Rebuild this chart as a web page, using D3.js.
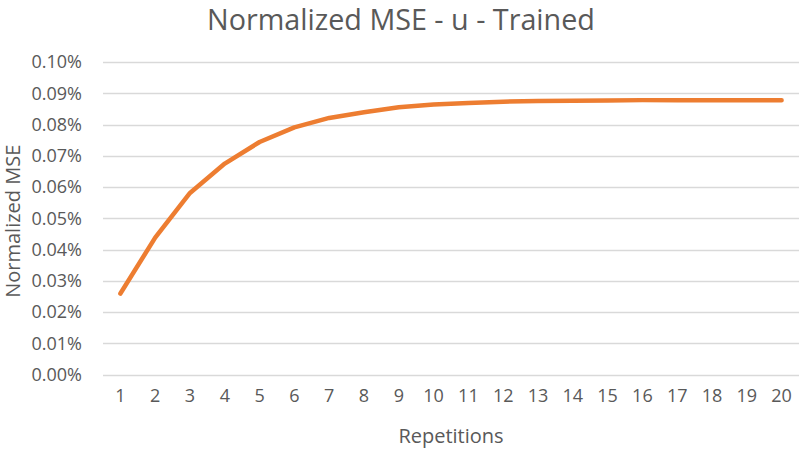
<!DOCTYPE html>
<html>
<head>
<meta charset="utf-8">
<script src="https://cdn.jsdelivr.net/npm/d3@7"></script>
<style>
  body { margin: 0; background: #fff; }
  svg { display: block; }
  text { font-family: "Open Sans", "Noto Sans", sans-serif; fill: #595959; }
</style>
</head>
<body>
<svg id="chart" width="800" height="449"></svg>
<script>
const titleText = "Normalized MSE - u - Trained";
const xTitle = "Repetitions";
const yTitle = "Normalized MSE";
const categories = [1,2,3,4,5,6,7,8,9,10,11,12,13,14,15,16,17,18,19,20];
const mseValues = [0.0259, 0.0438, 0.0581, 0.0675, 0.0744, 0.0791, 0.0821, 0.0839, 0.0855, 0.0864, 0.0869, 0.0873, 0.0875, 0.0876, 0.0877, 0.0878, 0.0878, 0.0878, 0.0878, 0.0878];
const yTicks = [0, 0.01, 0.02, 0.03, 0.04, 0.05, 0.06, 0.07, 0.08, 0.09, 0.10];

const svg = d3.select("#chart");
const plot = { left: 103, right: 799, top: 62, bottom: 374.5 };

const x = d3.scaleBand().domain(categories).range([plot.left, plot.right]);
const y = d3.scaleLinear().domain([0, 0.10]).range([plot.bottom, plot.top]);

// gridlines
svg.append("g").selectAll("line").data(yTicks).join("line")
  .attr("x1", plot.left).attr("x2", plot.right)
  .attr("y1", d => Math.round(y(d)) + 0.5).attr("y2", d => Math.round(y(d)) + 0.5)
  .attr("stroke", "#d9d9d9").attr("stroke-width", 1.3);

// y axis labels
const yAxis = d3.axisLeft(y).tickValues(yTicks).tickSize(0).tickPadding(0)
  .tickFormat(d => d.toFixed(2) + "%");
const yg = svg.append("g").attr("transform", `translate(${plot.left - 21},0)`).call(yAxis);
yg.select(".domain").remove();
yg.selectAll("text").attr("font-size", 18).attr("fill", "#595959")
  .style("font-family", '"Open Sans", sans-serif');

// x axis labels
const xAxis = d3.axisBottom(x).tickSize(0).tickPadding(0);
const xg = svg.append("g").attr("transform", `translate(0,${plot.bottom + 15})`).call(xAxis);
xg.select(".domain").remove();
xg.selectAll("text").attr("font-size", 18).attr("fill", "#595959")
  .style("font-family", '"Open Sans", sans-serif');

// line
const line = d3.line().x((d, i) => x(categories[i]) + x.bandwidth() / 2).y(d => y(d));
svg.append("path").datum(mseValues)
  .attr("d", line).attr("fill", "none")
  .attr("stroke", "#ed7d31").attr("stroke-width", 4.5)
  .attr("stroke-linecap", "round").attr("stroke-linejoin", "round");

// title
const t = svg.append("text").attr("x", 401).attr("y", 30)
  .attr("text-anchor", "middle").attr("font-size", 25).text(titleText);
const tw = t.node().getComputedTextLength();
t.attr("font-size", 25 * 388 / tw);

// axis titles
svg.append("text").attr("x", (plot.left + plot.right) / 2).attr("y", 443)
  .attr("text-anchor", "middle").attr("font-size", 20).text(xTitle);
svg.append("text").attr("transform", `translate(20,${(plot.top + plot.bottom) / 2 + 3}) rotate(-90)`)
  .attr("text-anchor", "middle").attr("font-size", 20).text(yTitle);
</script>
</body>
</html>
